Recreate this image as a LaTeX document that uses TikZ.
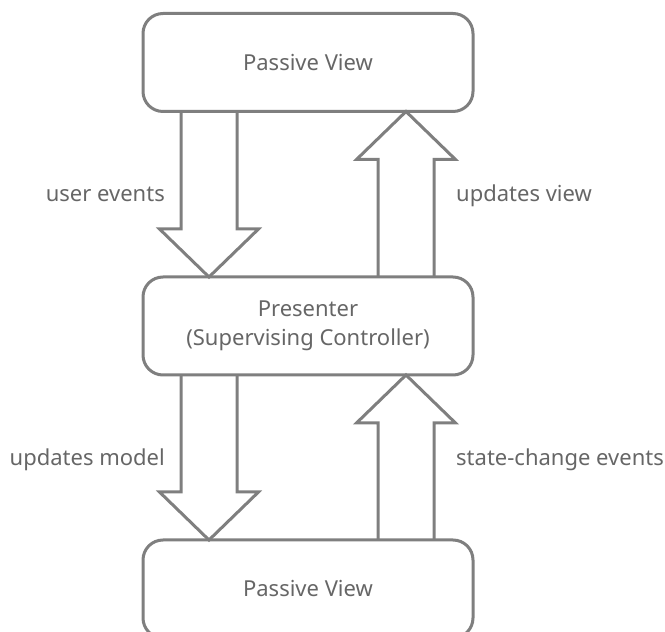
\documentclass[tikz,border=0pt]{standalone}
\usepackage{fontspec}
\setmainfont{Noto Sans}
\usetikzlibrary{calc}
\definecolor{edgegray}{HTML}{7F7F7F}
\definecolor{textgray}{HTML}{666666}
% hollow block arrow from #1 (tail) to #2 (tip)
\newcommand{\blockarrow}[2]{%
  \coordinate (hb) at ($(#2)!48pt!(#1)$);
  \draw[flow] ($(#1)!28pt!90:(#2)$) -- ($(hb)!28pt!-90:(#1)$)
    -- ($(hb)!49.5pt!-90:(#1)$) -- (#2) -- ($(hb)!49.5pt!90:(#1)$)
    -- ($(hb)!28pt!90:(#1)$) -- ($(#1)!28pt!-90:(#2)$);
}
\begin{document}
\begin{tikzpicture}[x=1pt,y=1pt,
  font=\fontsize{22}{29}\selectfont,
  box/.style={draw=edgegray, line width=3pt, rounded corners=20pt,
    minimum width=330pt, minimum height=98pt, inner sep=0pt, outer sep=0pt,
    align=center, text=textgray, fill=white},
  flow/.style={draw=edgegray, line width=3pt, line join=miter},
  lbl/.style={text=textgray, inner sep=0pt}]
\useasboundingbox (0,0) rectangle (665,632);
\begin{scope}
\clip (0,0) rectangle (665,632);
\node[box] (top) at (308,569.5) {Passive View};
\node[box] (mid) at (308,306) {Presenter\\(Supervising Controller)};
\node[box] (bot) at (308,43) {Passive View};

\coordinate (ue1) at ($(top.south west)+(66,0)$);
\coordinate (ue2) at ($(mid.north west)+(66,0)$);
\coordinate (uv1) at ($(mid.north west)+(263,0)$);
\coordinate (uv2) at ($(top.south west)+(263,0)$);
\coordinate (um1) at ($(mid.south west)+(66,0)$);
\coordinate (um2) at ($(bot.north west)+(66,0)$);
\coordinate (sc1) at ($(bot.north west)+(263,0)$);
\coordinate (sc2) at ($(mid.south west)+(263,0)$);

\blockarrow{ue1}{ue2}
\blockarrow{uv1}{uv2}
\blockarrow{um1}{um2}
\blockarrow{sc1}{sc2}

\node[lbl, anchor=base east] (lue) at (165,430) {user events};
\node[lbl, anchor=base west] (luv) at (456,430) {updates view};
\node[lbl, anchor=base east] (lum) at (165,166) {updates model};
\node[lbl, anchor=base west] (lsc) at (456,166) {state-change events};
\end{scope}
\end{tikzpicture}
\end{document}
